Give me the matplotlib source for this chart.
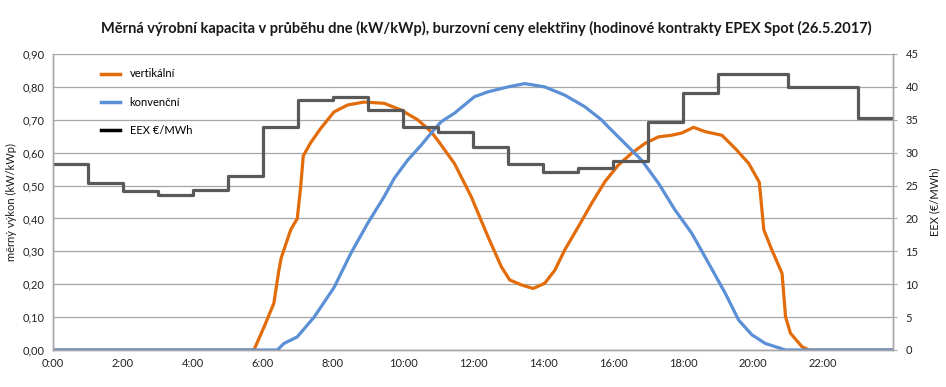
import numpy as np
import matplotlib.pyplot as plt
from matplotlib.lines import Line2D

plt.rcParams['font.family'] = ['Lato', 'DejaVu Sans']

# vertikální (orange), hours / kW/kWp
vert_h = [0, 5.74, 6.03, 6.31, 6.45, 6.52, 6.79, 6.98, 7.08, 7.15, 7.36, 7.65, 8.03,
          8.42, 8.89, 9.46, 9.94, 10.42, 10.80, 10.99, 11.47, 11.95, 12.43, 12.81,
          13.05, 13.38, 13.72, 14.05, 14.34, 14.62, 15.01, 15.39, 15.77, 16.15,
          16.53, 16.91, 17.30, 17.68, 17.97, 18.30, 18.63, 19.11, 19.49, 19.88,
          20.18, 20.31, 20.54, 20.83, 20.93, 21.07, 21.40, 21.60, 24]
vert_v = [0, 0, 0.07, 0.142, 0.24, 0.28, 0.365, 0.40, 0.50, 0.59, 0.63, 0.674, 0.724,
          0.745, 0.754, 0.75, 0.73, 0.70, 0.664, 0.638, 0.567, 0.466, 0.344, 0.253,
          0.213, 0.198, 0.187, 0.203, 0.243, 0.304, 0.375, 0.446, 0.512, 0.562,
          0.598, 0.628, 0.648, 0.653, 0.66, 0.677, 0.664, 0.653, 0.613, 0.567,
          0.51, 0.365, 0.304, 0.233, 0.101, 0.051, 0.01, 0, 0]

# konvenční (blue)
konv_h = [0, 6.41, 6.60, 6.98, 7.46, 8.03, 8.51, 8.99, 9.46, 9.75, 10.13, 10.52, 10.80,
          11.09, 11.47, 12.04, 12.43, 13.00, 13.48, 14.05, 14.62, 15.19, 15.67, 15.86,
          16.34, 16.82, 17.30, 17.77, 18.25, 18.73, 19.21, 19.59, 19.97, 20.35, 20.93, 24]
konv_v = [0, 0, 0.02, 0.04, 0.10, 0.19, 0.294, 0.385, 0.466, 0.522, 0.577, 0.623, 0.659,
          0.694, 0.72, 0.77, 0.785, 0.80, 0.81, 0.80, 0.775, 0.74, 0.70, 0.679,
          0.628, 0.577, 0.507, 0.426, 0.355, 0.264, 0.172, 0.091, 0.046, 0.02, 0, 0]

# EEX hourly price (EUR/MWh)
eex = [28.3, 25.4, 24.2, 23.5, 24.4, 26.4, 33.9, 38.0, 38.4, 36.5, 33.9, 33.1,
       30.9, 28.3, 27.1, 27.6, 28.8, 34.7, 39.0, 42.0, 42.0, 40.0, 40.0, 35.2]

xlabels = ['0:00', '2:00', '4:00', '6:00', '8:00', '10:00', '12:00', '14:00',
           '16:00', '18:00', '20:00', '22:00']

c_orange = '#E36C0A'
c_blue = '#5B8FD6'
c_gray = '#595959'
c_grid = '#A6A6A6'

fig = plt.figure(figsize=(9.46, 3.87), dpi=100)
ax = fig.add_axes([53/946, 1-350/387, 840/946, 296/387])
ax2 = ax.twinx()

ax.plot(vert_h, vert_v, color=c_orange, lw=2.3, solid_capstyle='round')
ax.plot(konv_h, konv_v, color=c_blue, lw=2.3, solid_capstyle='round')

hrs = np.arange(25)
ax2.step(hrs, eex + [eex[-1]], where='post', color=c_gray, lw=2.3)

ax.set_xlim(0, 24)
ax.set_ylim(0, 0.9)
ax2.set_ylim(0, 45)
ax.set_yticks(np.arange(0, 0.91, 0.1))
ax.set_yticklabels([f'{v:.2f}'.replace('.', ',') for v in np.arange(0, 0.91, 0.1)])
ax2.set_yticks(np.arange(0, 46, 5))
ax.set_xticks(np.arange(0, 24, 2))
ax.set_xticklabels(xlabels)

ax.grid(axis='y', color=c_grid, lw=0.9)
ax.set_axisbelow(True)
for a in (ax, ax2):
    a.spines['top'].set_visible(False)
    for s in ('left', 'right', 'bottom'):
        a.spines[s].set_color(c_grid)
        a.spines[s].set_linewidth(1.0)
ax.tick_params(axis='both', length=0, labelsize=8, colors='#222222', pad=6)
ax2.tick_params(axis='y', length=3, color=c_grid, labelsize=8, labelcolor='#222222', pad=6)

ax.set_ylabel('měrný výkon (kW/kWp)', fontsize=8, color='#1a1a1a')
ax.yaxis.set_label_coords(-0.043, 0.5)
ax2.set_ylabel('EEX (€/MWh)', fontsize=8, color='#1a1a1a')
ax2.yaxis.set_label_coords(1.043, 0.5)

fig.text(486/946, 1-28/387, 'Měrná výrobní kapacita v průběhu dne (kW/kWp), burzovní ceny elektřiny '
         '(hodinové kontrakty EPEX Spot (26.5.2017)', ha='center', va='center',
         fontsize=10.5, fontweight='bold', color='#1a1a1a')

handles = [Line2D([], [], color=c_orange, lw=2.5),
           Line2D([], [], color=c_blue, lw=2.5),
           Line2D([], [], color='black', lw=2.5)]
ax2.legend(handles, ['vertikální', 'konvenční', 'EEX €/MWh'], loc='upper left',
           bbox_to_anchor=(0.045, 0.985), frameon=False, fontsize=8,
           handlelength=1.7, labelspacing=1.55, handletextpad=0.9)

fig.savefig('out.png', dpi=100)
